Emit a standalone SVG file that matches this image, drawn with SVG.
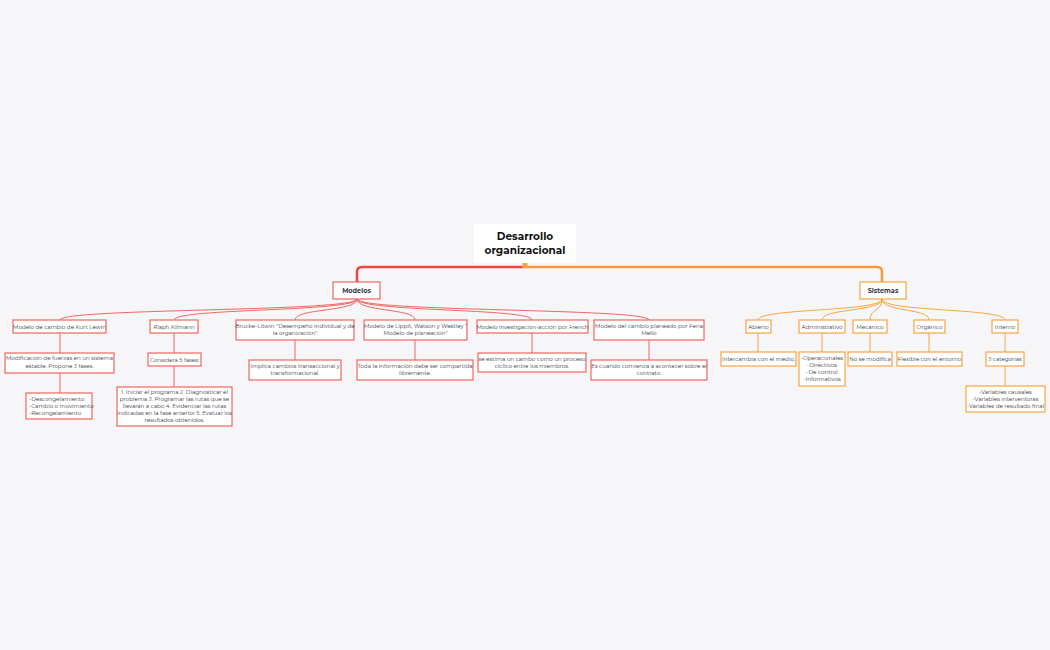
<svg xmlns="http://www.w3.org/2000/svg" width="1050" height="650" viewBox="0 0 1050 650">
<style>
text{font-family:"Montserrat","Lato","Liberation Sans",sans-serif;fill:#333a45;font-size:5.6px;text-anchor:middle}
.r{fill:#fff;stroke:#f06661;stroke-width:1.2}
.o{fill:#fff;stroke:#f7a542;stroke-width:1.2}
.lr{fill:none;stroke:#f06661;stroke-width:1}
.lo{fill:none;stroke:#f7a542;stroke-width:1}
.b{font-weight:bold;font-size:6.5px}
</style>
<rect width="1050" height="650" fill="#f6f6f8"/>
<g id="connectors">
<path d="M525 267 H362 Q357 267 357 272 V282" fill="none" stroke="#f0463f" stroke-width="2.5"/>
<path d="M525 267 H877 Q882 267 882 272 V282" fill="none" stroke="#f89a3a" stroke-width="2.5"/>
<rect x="522.5" y="263" width="5" height="5" fill="#f7a542"/>
<g class="lr">
<path d="M357 299 C357 312 60 308 60 320"/>
<path d="M357 299 C357 312 174 308 174 320"/>
<path d="M357 299 C357 312 295 308 295 320"/>
<path d="M357 299 C357 312 415 308 415 320"/>
<path d="M357 299 C357 312 532 308 532 320"/>
<path d="M357 299 C357 312 649 308 649 320"/>
<path d="M60 333 V353 M60 373 V393 M174 333 V353 M174 366 V387 M295 340 V360 M415 340 V360 M532 333 V353 M649 340 V360"/>
</g>
<g class="lo">
<path d="M882 299 C882 312 758 308 758 320"/>
<path d="M882 299 C882 312 822 308 822 320"/>
<path d="M882 299 C882 312 870 308 870 320"/>
<path d="M882 299 C882 312 929 308 929 320"/>
<path d="M882 299 C882 312 1005 308 1005 320"/>
<path d="M758 333 V352 M822 333 V352 M870 333 V352 M929 333 V352 M1005 333 V352 M1005 366 V386"/>
</g>
</g>
<g id="root"><rect x="474" y="224" width="102" height="39" fill="#fff"/><text x="525" y="240" style="font-size:10.5px;font-weight:bold;fill:#111">Desarrollo</text><text x="525" y="254" style="font-size:10.5px;font-weight:bold;fill:#111">organizacional</text></g>
<g id="modelos"><rect class="r" x="333" y="282" width="47" height="17"/><text class="b" x="356.5" y="293">Modelos</text></g>
<g id="sistemas"><rect class="o" x="860" y="282" width="46" height="17"/><text class="b" x="883" y="293">Sistemas</text></g>
<g id="lewin"><rect class="r" x="13" y="320" width="93" height="13"/><text x="59.5" y="328.5">Modelo de cambio de Kurt Lewin</text></g>
<g id="lewin2"><rect class="r" x="5" y="353" width="109" height="20"/><text x="59.5" y="360">Modificación de fuerzas en un sistema</text><text x="59.5" y="368">estable. Propone 3 fases.</text></g>
<g id="lewin3"><rect class="r" x="26" y="393" width="66" height="26"/><text x="29" y="401" style="text-anchor:start">-Descongelamiento</text><text x="29" y="408" style="text-anchor:start">-Cambio o movimiento</text><text x="29" y="415" style="text-anchor:start">-Recongelamiento</text></g>
<g id="kilmann"><rect class="r" x="150" y="320" width="48" height="13"/><text x="174" y="328.5">Rlaph Kilmann</text></g>
<g id="kilmann2"><rect class="r" x="148" y="353" width="53" height="13"/><text x="174.5" y="361.5">Considera 5 fases:</text></g>
<g id="kilmann3"><rect class="r" x="117" y="387" width="115" height="39"/><text x="174.5" y="394">1. Iniciar el programa 2. Diagnosticar el</text><text x="174.5" y="401">problema 3. Programar las rutas que se</text><text x="174.5" y="408">llevarán a cabo 4. Evidenciar las rutas</text><text x="174.5" y="415">indicadas en la fase anterior 5. Evaluar los</text><text x="174.5" y="422">resultados obtenidos.</text></g>
<g id="brucke"><rect class="r" x="236" y="320" width="118" height="20"/><text x="295" y="327.5">Brucke-Litwin "Desempeño individual y de</text><text x="295" y="335">la organización"</text></g>
<g id="brucke2"><rect class="r" x="249" y="360" width="92" height="20"/><text x="295" y="367.5">Implica cambios transaccional y</text><text x="295" y="375">transformacional.</text></g>
<g id="lippit"><rect class="r" x="364" y="320" width="103" height="20"/><text x="415.5" y="327.5">Modelo de Lippit, Watson y Westley "</text><text x="415.5" y="335">Modelo de planeación"</text></g>
<g id="lippit2"><rect class="r" x="357" y="360" width="116" height="20"/><text x="415" y="367.5">Toda la información debe ser compartida</text><text x="415" y="375">libremente.</text></g>
<g id="french"><rect class="r" x="477" y="320" width="111" height="13"/><text x="532.5" y="328.5">Modelo investigación-acción por French</text></g>
<g id="french2"><rect class="r" x="478" y="353" width="108" height="19"/><text x="532" y="360.5">se estima un cambo como un proceso</text><text x="532" y="368">cíclico entre los miembros.</text></g>
<g id="feria"><rect class="r" x="594" y="320" width="110" height="20"/><text x="649" y="327.5">Modelo del cambio planeado por Feria</text><text x="649" y="335">Mello</text></g>
<g id="feria2"><rect class="r" x="591" y="360" width="116" height="20"/><text x="649" y="367.5">Es cuando comienza a acontecer sobre el</text><text x="649" y="375">contrato.</text></g>
<g id="abierto"><rect class="o" x="746" y="320" width="25" height="13"/><text x="758.5" y="328.5">Abierto</text></g>
<g id="abierto2"><rect class="o" x="721" y="352" width="75" height="14"/><text x="758.5" y="361">Intercambia con el medio.</text></g>
<g id="admin"><rect class="o" x="799" y="320" width="46" height="13"/><text x="822" y="328.5">Administrativo</text></g>
<g id="admin2"><rect class="o" x="799" y="352" width="46" height="34"/><text x="822" y="360">-Operacionales</text><text x="822" y="367">-Directivos</text><text x="822" y="374">-De control</text><text x="822" y="381">-Informativos</text></g>
<g id="mecanico"><rect class="o" x="853" y="320" width="34" height="13"/><text x="870" y="328.5">Mecánico</text></g>
<g id="mecanico2"><rect class="o" x="848" y="352" width="44" height="14"/><text x="870" y="361">No se modifica</text></g>
<g id="organico"><rect class="o" x="914" y="320" width="31" height="13"/><text x="929.5" y="328.5">Orgánico</text></g>
<g id="organico2"><rect class="o" x="897" y="352" width="65" height="14"/><text x="929.5" y="361">Flexible con el entorno</text></g>
<g id="interno"><rect class="o" x="992" y="320" width="26" height="13"/><text x="1005" y="328.5">Interno</text></g>
<g id="interno2"><rect class="o" x="986" y="352" width="38" height="14"/><text x="1005" y="361">3 categorías</text></g>
<g id="interno3"><rect class="o" x="966" y="386" width="79" height="26"/><text x="1005.5" y="394">-Variables causales</text><text x="1005.5" y="401">-Variables interventoras</text><text x="1005.5" y="408">-Variables de resultado final</text></g>
</svg>
